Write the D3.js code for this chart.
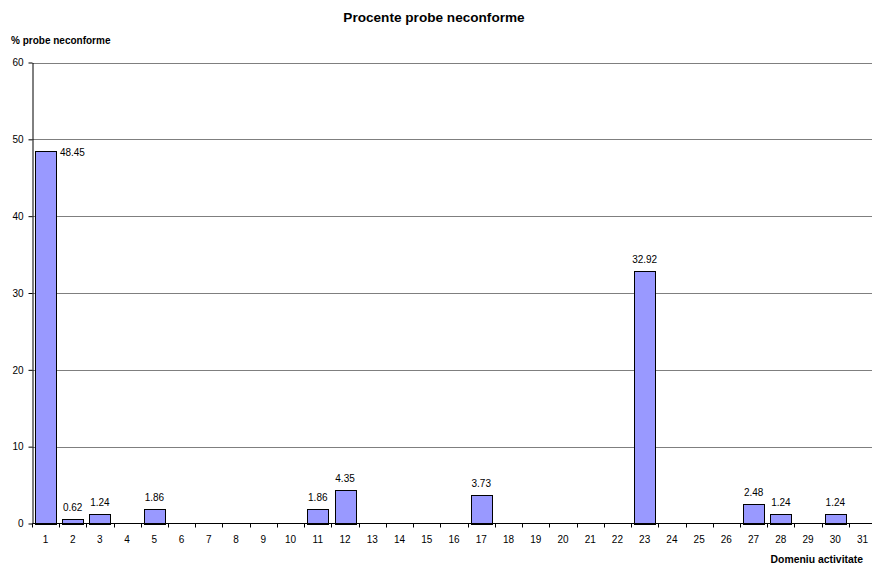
<!DOCTYPE html>
<html>
<head>
<meta charset="utf-8">
<script src="https://cdn.jsdelivr.net/npm/d3@7"></script>
<style>
  html, body { margin: 0; padding: 0; background: #fff; overflow: hidden; }
  svg { display: block; font-family: "Liberation Sans", Arial, sans-serif; }
</style>
</head>
<body>
<svg id="chart" width="872" height="566"></svg>
<script>
// Domain categories (1..31) and percentage of non-conforming samples
const categories = d3.range(1, 32).map(String);
const values = [48.45, 0.62, 1.24, 0, 1.86, 0, 0, 0, 0, 0,
                1.86, 4.35, 0, 0, 0, 0, 3.73, 0, 0, 0,
                0, 0, 32.92, 0, 0, 0, 2.48, 1.24, 0, 1.24, 0];
const yTicks = [0, 10, 20, 30, 40, 50, 60];

const titleText = "Procente probe neconforme";
const yTitleText = "% probe neconforme";
const xTitleText = "Domeniu activitate";

const svg = d3.select("#chart");
// plot area runs slightly past the right edge of the canvas
const plotLeft = 31.8, plotRight = 876.2, plotTop = 62.5, plotBottom = 523.5;
const axisX = 32.5;

const x = d3.scaleBand().domain(categories).range([plotLeft, plotRight])
  .paddingInner(0.229).paddingOuter(0.1145);
const xEdge = d3.scaleBand().domain(categories).range([plotLeft, plotRight]).padding(0);
const y = d3.scaleLinear().domain([0, 60]).range([plotBottom, plotTop]);

// horizontal gridlines
svg.append("g").selectAll("line")
  .data(yTicks.filter(t => t > 0))
  .join("line")
  .attr("x1", axisX).attr("x2", plotRight)
  .attr("y1", d => Math.round(y(d)) + 0.5).attr("y2", d => Math.round(y(d)) + 0.5)
  .attr("stroke", "#7f7f7f").attr("stroke-width", 1);

// bars
const data = categories.map((c, i) => ({ c, v: values[i] })).filter(d => d.v > 0);
svg.append("g").selectAll("rect")
  .data(data)
  .join("rect")
  .attr("x", d => Math.round(x(d.c)) + 0.5)
  .attr("y", d => Math.round(y(d.v)) + 0.5)
  .attr("width", Math.round(x.bandwidth()))
  .attr("height", d => Math.round(y(0)) - Math.round(y(d.v)))
  .attr("fill", "#9999ff")
  .attr("stroke", "#000").attr("stroke-width", 1);

// value labels (the tallest bar carries its label beside it)
svg.append("g").selectAll("text")
  .data(data)
  .join("text")
  .attr("x", (d, i) => i === 0 ? x(d.c) + x.bandwidth() + 4 : x(d.c) + x.bandwidth() / 2)
  .attr("y", (d, i) => i === 0 ? y(d.v) + 5 : y(d.v) - 8)
  .attr("text-anchor", (d, i) => i === 0 ? "start" : "middle")
  .attr("font-size", 10).attr("fill", "#000")
  .text(d => d.v.toFixed(2));

// y axis
const yAxis = svg.append("g").attr("transform", `translate(${axisX},0)`)
  .call(d3.axisLeft(y).tickValues(yTicks).tickSize(4).tickPadding(5).tickSizeOuter(0));
yAxis.select(".domain").attr("stroke", "#000");
yAxis.selectAll(".tick line").attr("stroke", "#000");
yAxis.selectAll(".tick text").attr("font-size", 10).attr("fill", "#000")
  .attr("font-family", "Liberation Sans, Arial, sans-serif");

// x axis: line, tick marks at category boundaries, centered labels
const xAxisG = svg.append("g");
xAxisG.append("line").attr("x1", axisX).attr("x2", plotRight)
  .attr("y1", plotBottom).attr("y2", plotBottom).attr("stroke", "#000");
const edges = categories.map(c => xEdge(c)).slice(1).concat([plotRight]);
xAxisG.selectAll("line.tk").data(edges).join("line").attr("class", "tk")
  .attr("x1", d => Math.round(d) + 0.5).attr("x2", d => Math.round(d) + 0.5)
  .attr("y1", plotBottom).attr("y2", plotBottom + 4).attr("stroke", "#000");
xAxisG.append("line").attr("x1", axisX).attr("x2", axisX)
  .attr("y1", plotBottom).attr("y2", plotBottom + 4).attr("stroke", "#000");
xAxisG.selectAll("text").data(categories).join("text")
  .attr("x", c => xEdge(c) + xEdge.bandwidth() / 2)
  .attr("y", 543)
  .attr("text-anchor", "middle").attr("font-size", 10).attr("fill", "#000")
  .text(c => c);

// titles
svg.append("text").attr("x", 434).attr("y", 22).attr("text-anchor", "middle")
  .attr("font-size", 13.6).attr("font-weight", "bold").text(titleText);
svg.append("text").attr("x", 11).attr("y", 44).attr("text-anchor", "start")
  .attr("font-size", 10).attr("font-weight", "bold").text(yTitleText);
svg.append("text").attr("x", 863).attr("y", 563).attr("text-anchor", "end")
  .attr("font-size", 10.4).attr("font-weight", "bold").text(xTitleText);
</script>
</body>
</html>
